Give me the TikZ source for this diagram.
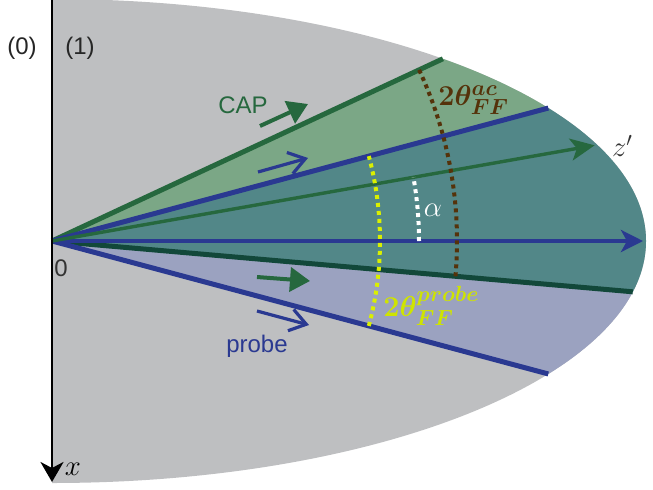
\documentclass[tikz,border=0pt]{standalone}
\usepackage{amsmath}
\usepackage{fontspec}
\newfontfamily\labelfont{Liberation Sans}
\usetikzlibrary{arrows.meta, positioning}

\definecolor{bggray}{RGB}{190,191,193}
\definecolor{capfill}{RGB}{123,167,134}
\definecolor{bothfill}{RGB}{82,135,136}
\definecolor{probefill}{RGB}{155,162,192}
\definecolor{capgreen}{RGB}{38,104,62}
\definecolor{capdark}{RGB}{18,72,58}
\definecolor{probeblue}{RGB}{42,57,145}
\definecolor{acbrown}{RGB}{85,50,10}
\definecolor{probeyellow}{RGB}{218,240,0}

\begin{document}
\begin{tikzpicture}[
  x=0.5pt, y=0.5pt,
  every node/.style={font=\labelfont\fontsize{12}{14}\selectfont},
  mathlbl/.style={font=\fontsize{14}{16}\selectfont},
  anglbl/.style={font=\fontsize{15.5}{18}\selectfont, anchor=west, inner sep=0pt},
  capline/.style={line width=2.5pt, draw=capgreen},
  caplow/.style={line width=2.5pt, draw=capdark},
  probeline/.style={line width=2.5pt, draw=probeblue},
  capdir/.style={line width=2pt, draw=capgreen, -{Triangle[length=10pt, width=12pt]}},
  probedir/.style={line width=1.6pt, draw=probeblue, -{Straight Barb[length=8pt, width=11pt]}},
  dotarc/.style={line width=2pt, dash pattern=on 2pt off 2pt}
]
\useasboundingbox (-52,-248) rectangle (601,241);

% Beam region
\fill[bggray] (0,242) arc[start angle=90, end angle=-90, x radius=594, y radius=242] -- cycle;

% Origin and where the rays meet the edge
\coordinate (O) at (0,0);
\coordinate (capT) at ({atan(594/242*tan(25))}:594 and 242);
\coordinate (capB) at ({atan(594/242*tan(-5))}:594 and 242);
\coordinate (prT) at ({atan(594/242*tan(15))}:594 and 242);
\coordinate (prB) at ({atan(594/242*tan(-15))}:594 and 242);
\coordinate (zend) at (591,0);
\coordinate (zpend) at (10:551);
\coordinate (xtop) at (0,241);
\coordinate (xend) at (0,-241);

% Cones
\begin{scope}
  \clip (0,242) arc[start angle=90, end angle=-90, x radius=594, y radius=242] -- cycle;
  \fill[capfill] (O) -- (15:900) -- (25:900) -- cycle;
  \fill[bothfill] (O) -- (-5:900) -- (15:900) -- cycle;
  \fill[probefill] (O) -- (-15:900) -- (-5:900) -- cycle;
\end{scope}

% Rays
\draw[capline] (O) -- (capT);
\draw[caplow] (O) -- (capB);
\draw[probeline] (O) -- (prT);
\draw[probeline] (O) -- (prB);
\draw[line width=2pt, draw=probeblue, -{Stealth[length=11pt, width=11pt, inset=3pt]}] (O) -- (zend);
\draw[line width=1.7pt, draw=capgreen, -{Stealth[length=12pt, width=11pt, inset=3pt]}] (O) -- (zpend);

% Axis
\draw[line width=1.4pt, -{Stealth[length=10pt, width=11.5pt, inset=3pt]}] (xtop) -- (xend);

% Angles
\draw[dotarc, probeyellow] (-15:328) arc[start angle=-15, end angle=15, radius=328];
\draw[dotarc, acbrown] (-5:405) arc[start angle=-5, end angle=25, radius=405];
\draw[dotarc, white] (0:367) arc[start angle=0, end angle=10, radius=367];

% Direction arrows
\coordinate (cA) at (208,115); \coordinate (cB) at (256,137);
\coordinate (pA) at (206,69);  \coordinate (pB) at (256,83);
\coordinate (cC) at (205,-36); \coordinate (cD) at (258,-40);
\coordinate (pC) at (205,-70); \coordinate (pD) at (257,-84);
\draw[capdir] (cA) -- (cB);
\draw[probedir] (pA) -- (pB);
\draw[capdir] (cC) -- (cD);
\draw[probedir] (pC) -- (pD);

% Labels
\node[text=black!85] (n0) at (-30,193) {(0)};
\node[text=black!85] (n1) at (28,193) {(1)};
\node[text=capgreen] (cap) at (191,136) {CAP};
\node[text=probeblue] (probe) at (205,-105) {probe};
\node[text=black!80] (orig) at (9,-27) {0};
\node[mathlbl] (xl) at (21,-228) {$x$};
\node[mathlbl, anchor=west, text=black!80] (zl) at (595,-9) {$z$};
\node[mathlbl, anchor=west, text=black!80] (zpl) at (553,95) {$z'$};
\node[mathlbl, text=white] (al) at (381,31) {$\alpha$};
\node[anglbl, text=acbrown] (acl) at (386,141) {$\boldsymbol{2\theta^{ac}_{FF}}$};
\node[anglbl, text=probeyellow!95!black] (prl) at (331,-65) {$\boldsymbol{2\theta^{probe}_{FF}}$};

\end{tikzpicture}
\end{document}
